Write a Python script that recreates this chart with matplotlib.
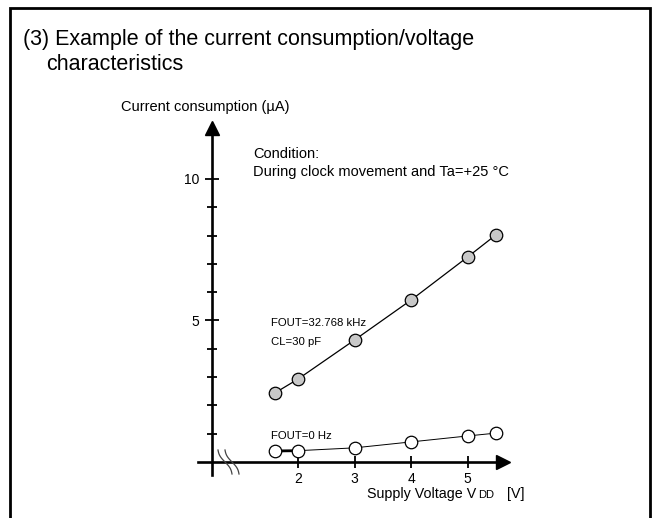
import numpy as np
import matplotlib
matplotlib.use("Agg")
import matplotlib.pyplot as plt
from matplotlib.patches import Rectangle
from matplotlib.lines import Line2D

plt.rcParams['font.family'] = ['Liberation Sans', 'DejaVu Sans']

# supply voltage (V) and current consumption (uA)
volt = [1.6, 2.0, 3.0, 4.0, 5.0, 5.5]
i_32k = [2.45, 2.93, 4.31, 5.72, 7.24, 8.02]
i_0hz = [0.39, 0.40, 0.50, 0.71, 0.92, 1.02]

x_ticks = [2, 3, 4, 5]
y_major = [5, 10]
y_minor = [1, 2, 3, 4, 6, 7, 8, 9]

W, H = 655, 518


def fx(x):
    return x / W


def fy(y):
    return 1 - y / H


fig = plt.figure(figsize=(6.55, 5.18), dpi=100)

# outer frame of the figure box
fig.add_artist(Rectangle((fx(10), fy(540)), (650 - 10) / W, (540 - 8) / H,
                         transform=fig.transFigure, fill=False, lw=2.0,
                         edgecolor='black', clip_on=False))

ax = fig.add_axes([fx(198), fy(475), (503 - 198) / W, (475 - 128) / H])
ax.patch.set_alpha(0)
ax.set_xlim(0.230, 5.628)
ax.set_ylim(-0.459, 11.80)

y_axis_x = 0.478
for s in ['top', 'right']:
    ax.spines[s].set_visible(False)
ax.spines['left'].set_position(('data', y_axis_x))
ax.spines['bottom'].set_position(('data', 0))
ax.spines['left'].set_linewidth(1.9)
ax.spines['bottom'].set_linewidth(1.9)

# arrow heads
ax.plot(y_axis_x, 11.80, marker='^', ms=9.5, color='black', clip_on=False)
ax.plot(5.628, 0, marker='>', ms=9.5, color='black', clip_on=False)

# series
ax.plot(volt, i_32k, '-', color='black', lw=0.9)
ax.plot(volt, i_32k, 'o', ms=9, mfc='#c8c8c8', mec='black', mew=0.9)
ax.plot(volt, i_0hz, '-', color='black', lw=0.7)
ax.plot(volt[:2], i_0hz[:2], '-', color='black', lw=2.0)
ax.plot(volt, i_0hz, 'o', ms=9, mfc='white', mec='black', mew=0.9)

ax.set_xticks(x_ticks)
ax.set_xticklabels([str(v) for v in x_ticks])
ax.set_yticks(y_major)
ax.set_yticklabels([str(v) for v in y_major])
ax.set_yticks(y_minor, minor=True)
ax.tick_params(axis='both', which='both', direction='inout', width=1.3,
               colors='black', labelsize=10)
ax.tick_params(axis='x', length=8, pad=3)
ax.tick_params(axis='y', which='major', length=10, pad=4)
ax.tick_params(axis='y', which='minor', length=7)

# axis break marks
t = np.linspace(0, 1, 30)
for off in [0, 7]:
    bx = 218 + off + 14 * t - 1.5 * np.sin(2 * np.pi * t)
    by = 450 + 24 * t
    fig.add_artist(Line2D(fx(bx), fy(by), transform=fig.transFigure,
                          color='#444444', lw=0.9))

# texts
fig.text(fx(23), fy(45), "(3) Example of the current consumption/voltage",
         fontsize=15.5, va='baseline')
fig.text(fx(46), fy(70), "characteristics", fontsize=15.5, va='baseline')
fig.text(fx(121), fy(107), "Current consumption (µA)", fontsize=10.5, va='center')
fig.text(fx(253), fy(154), "Condition:", fontsize=10.5, va='center')
fig.text(fx(253), fy(172), "During clock movement and Ta=+25 °C", fontsize=10.5,
         va='center')
fig.text(fx(271), fy(323), "FOUT=32.768 kHz", fontsize=8.2, va='center')
fig.text(fx(271), fy(342), "CL=30 pF", fontsize=8.2, va='center')
fig.text(fx(271), fy(436), "FOUT=0 Hz", fontsize=8.2, va='center')
fig.text(fx(367), fy(498), "Supply Voltage V", fontsize=10.3, va='baseline')
fig.text(fx(478), fy(498), "DD", fontsize=8, va='baseline')
fig.text(fx(507), fy(498), "[V]", fontsize=10.3, va='baseline')

fig.savefig("out.png", dpi=100)
